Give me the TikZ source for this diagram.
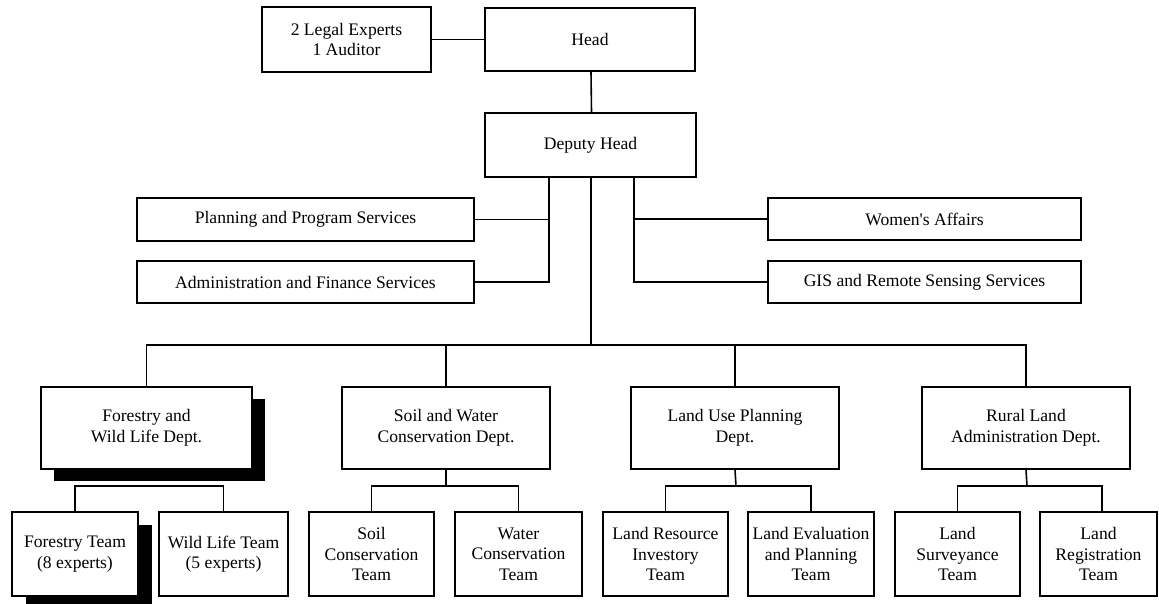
\documentclass[tikz,border=0pt]{standalone}
\usepackage{fontspec}
\setmainfont{Liberation Serif}
\newfontfamily\plainserif{Liberation Serif}
\usetikzlibrary{calc,shadows}
\tikzset{
  box/.style={draw=black, line width=1.6pt, fill=white, inner sep=0pt, align=center,
    font=\fontsize{17.6}{20.5}\selectfont},
  link/.style={draw=black, line width=1.6pt},
  shadowbox/.style={drop shadow={shadow xshift=13pt, shadow yshift=-12pt, opacity=1, fill=black}},
}
\begin{document}
\begin{tikzpicture}[x=1pt,y=-1pt]
\useasboundingbox (0,0) rectangle (1159,603);
% top
\node[box, minimum width=169pt, minimum height=65pt] (legal) at (346.5,39.5) {2 Legal Experts\\1 Auditor};
\node[box, minimum width=210pt, minimum height=63pt] (head) at (590,39.5) {Head};
\node[box, minimum width=211pt, minimum height=64pt] (deputy) at (590.5,145) {Deputy Head};
% services
\node[box, minimum width=337pt, minimum height=43pt] (plan) at (305.5,219.5) {Planning and Program Services};
\node[box, minimum width=337pt, minimum height=42pt] (admin) at (305.5,282) {Administration and Finance Services};
\node[box, minimum width=313pt, minimum height=42pt] (women) at (924.5,219) {\plainserif Women's Affairs};
\node[box, minimum width=313pt, minimum height=42pt] (gis) at (924.5,282) {GIS and Remote Sensing Services};
% departments
\node[box, shadowbox, minimum width=211pt, minimum height=82pt] (forestry) at (146.5,428) {Forestry and\\Wild Life Dept.};
\node[box, minimum width=208pt, minimum height=82pt] (soil) at (446,428) {Soil and Water\\Conservation Dept.};
\node[box, minimum width=208pt, minimum height=82pt] (landuse) at (735,428) {Land Use Planning\\Dept.};
\node[box, minimum width=208pt, minimum height=82pt] (rural) at (1026,428) {Rural Land\\Administration Dept.};
% connectors (drawn before teams)
\coordinate (bus) at (591,345);
\draw[link] (legal.east) -- (legal.east -| head.west);
\draw[link] ($(head.south)+(1,0)$) -- ($(deputy.north)+(1,0)$);
\draw[link] ($(deputy.south)+(-41.5,0)$) |- (plan.east);
\draw[link] ($(deputy.south)+(-41.5,0)$) |- (admin.east);
\draw[link] ($(deputy.south)+(43.5,0)$) |- (women.west);
\draw[link] ($(deputy.south)+(43.5,0)$) |- (gis.west);
\draw[link] ($(deputy.south)+(0.5,0)$) -- (bus);
\draw[link] (forestry.north) |- (bus) -| (rural.north);
\draw[link] (soil.north) -- (soil.north |- bus);
\draw[link] (landuse.north) -- (landuse.north |- bus);
% teams
\node[box, drop shadow={shadow xshift=14pt, shadow yshift=-13pt, opacity=1, fill=black}, minimum width=126pt, minimum height=84pt] (ft) at (75,554) {Forestry Team\\(8 experts)};
\node[box, minimum width=129pt, minimum height=84pt] (wl) at (223.5,554) {Wild Life Team\\(5 experts)};
\node[box, minimum width=125pt, minimum height=84pt] (sc) at (371.5,554) {Soil\\Conservation\\Team};
\node[box, minimum width=127pt, minimum height=84pt] (wc) at (518.5,554) {Water\\Conservation\\Team};
\node[box, minimum width=125pt, minimum height=84pt] (lr) at (665.5,554) {Land Resource\\Investory\\Team};
\node[box, minimum width=126pt, minimum height=84pt] (le) at (811,554) {Land Evaluation\\and Planning\\Team};
\node[box, minimum width=125pt, minimum height=84pt] (ls) at (957.5,554) {Land\\Surveyance\\Team};
\node[box, minimum width=117pt, minimum height=84pt] (lreg) at (1098.5,554) {Land\\Registration\\Team};
% sub connectors
\coordinate (fbar) at (146.5,486);
\draw[link] (fbar) -| (ft.north);
\draw[link] (fbar) -| (wl.north);
\coordinate (sbar) at (446,486);
\draw[link] (soil.south) -- (sbar);
\draw[link] (sbar) -| (sc.north);
\draw[link] (sbar) -| (wc.north);
\coordinate (lbar) at (736,486);
\draw[link] (landuse.south) -- (lbar);
\draw[link] (lbar) -| (lr.north);
\draw[link] (lbar) -| (le.north);
\coordinate (rbar) at (1027,486);
\draw[link] (rural.south) -- (rbar);
\draw[link] (rbar) -| (ls.north);
\draw[link] (rbar) -| ($(lreg.north)+(3.5,0)$);
\end{tikzpicture}
\end{document}
